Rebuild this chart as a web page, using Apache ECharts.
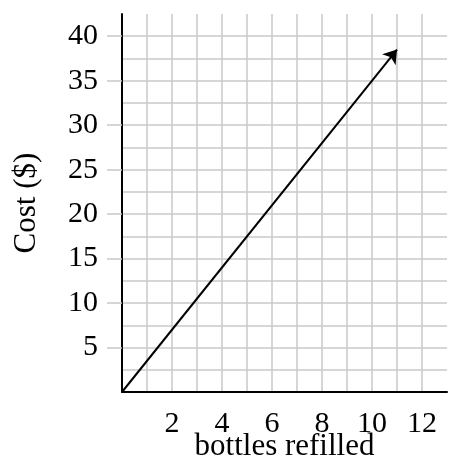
<!DOCTYPE html>
<html>
<head>
<meta charset="utf-8">
<script src="https://cdn.jsdelivr.net/npm/echarts@6/dist/echarts.min.js"></script>
<style>
html, body { margin: 0; padding: 0; background: #fff; }
#main { width: 449px; height: 462px; }
</style>
</head>
<body>
<div id="main"></div>
<script>
// tick labels
var xLabels = [2, 4, 6, 8, 10, 12];
var yLabels = [5, 10, 15, 20, 25, 30, 35, 40];
// the cost line: from start to arrow tip (bottles, dollars)
var lineStart = [0, 0];
var lineEnd = [11, 38.5];

var font = 'Liberation Serif';
var gridColor = '#c8c8c8';

var myChart = echarts.init(document.getElementById('main'));
var option = {
	animation: false,
	grid: { left: 122, right: 2, top: 14, bottom: 70, outerBoundsMode: 'none' },
	xAxis: {
		type: 'value',
		min: 0,
		max: 13,
		interval: 1,
		name: 'bottles refilled',
		nameLocation: 'middle',
		nameGap: 39,
		nameMoveOverlap: false,
		nameTextStyle: { fontFamily: font, fontSize: 31, color: '#000' },
		axisLine: { lineStyle: { color: '#000', width: 2 } },
		axisTick: { show: false },
		axisLabel: {
			margin: 17,
			fontFamily: font,
			fontSize: 30,
			color: '#000',
			formatter: function (v) {
				return xLabels.indexOf(v) >= 0 ? String(v) : '';
			}
		},
		splitLine: { show: true, showMaxLine: false, lineStyle: { color: gridColor, width: 1.5 } }
	},
	yAxis: [
		{
			type: 'value',
			min: 0,
			max: 42.5,
			interval: 2.5,
			axisLine: { show: true, lineStyle: { color: '#000', width: 2 } },
			axisTick: { show: false },
			axisLabel: { show: false },
			splitLine: { show: true, showMaxLine: false, lineStyle: { color: gridColor, width: 1.5 } }
		},
		{
			type: 'value',
			position: 'left',
			min: 0,
			max: 42.5,
			interval: 5,
			name: 'Cost ($)',
			nameLocation: 'middle',
			nameGap: 80,
			nameMoveOverlap: false,
			nameTextStyle: { fontFamily: font, fontSize: 31, color: '#000' },
			axisLine: { show: false },
			axisTick: { show: true, customValues: yLabels, length: 15, lineStyle: { color: gridColor, width: 1.5 } },
			axisLabel: { customValues: yLabels, margin: 24, fontFamily: font, fontSize: 30, color: '#000' },
			splitLine: { show: false }
		}
	],
	series: [
		{
			type: 'lines',
			coordinateSystem: 'cartesian2d',
			xAxisIndex: 0,
			yAxisIndex: 0,
			symbol: ['none', 'arrow'],
			symbolSize: 13,
			lineStyle: { color: '#000', width: 2, opacity: 1 },
			itemStyle: { color: '#000' },
			data: [{ coords: [lineStart, lineEnd] }]
		}
	]
};
myChart.setOption(option);
</script>
</body>
</html>
